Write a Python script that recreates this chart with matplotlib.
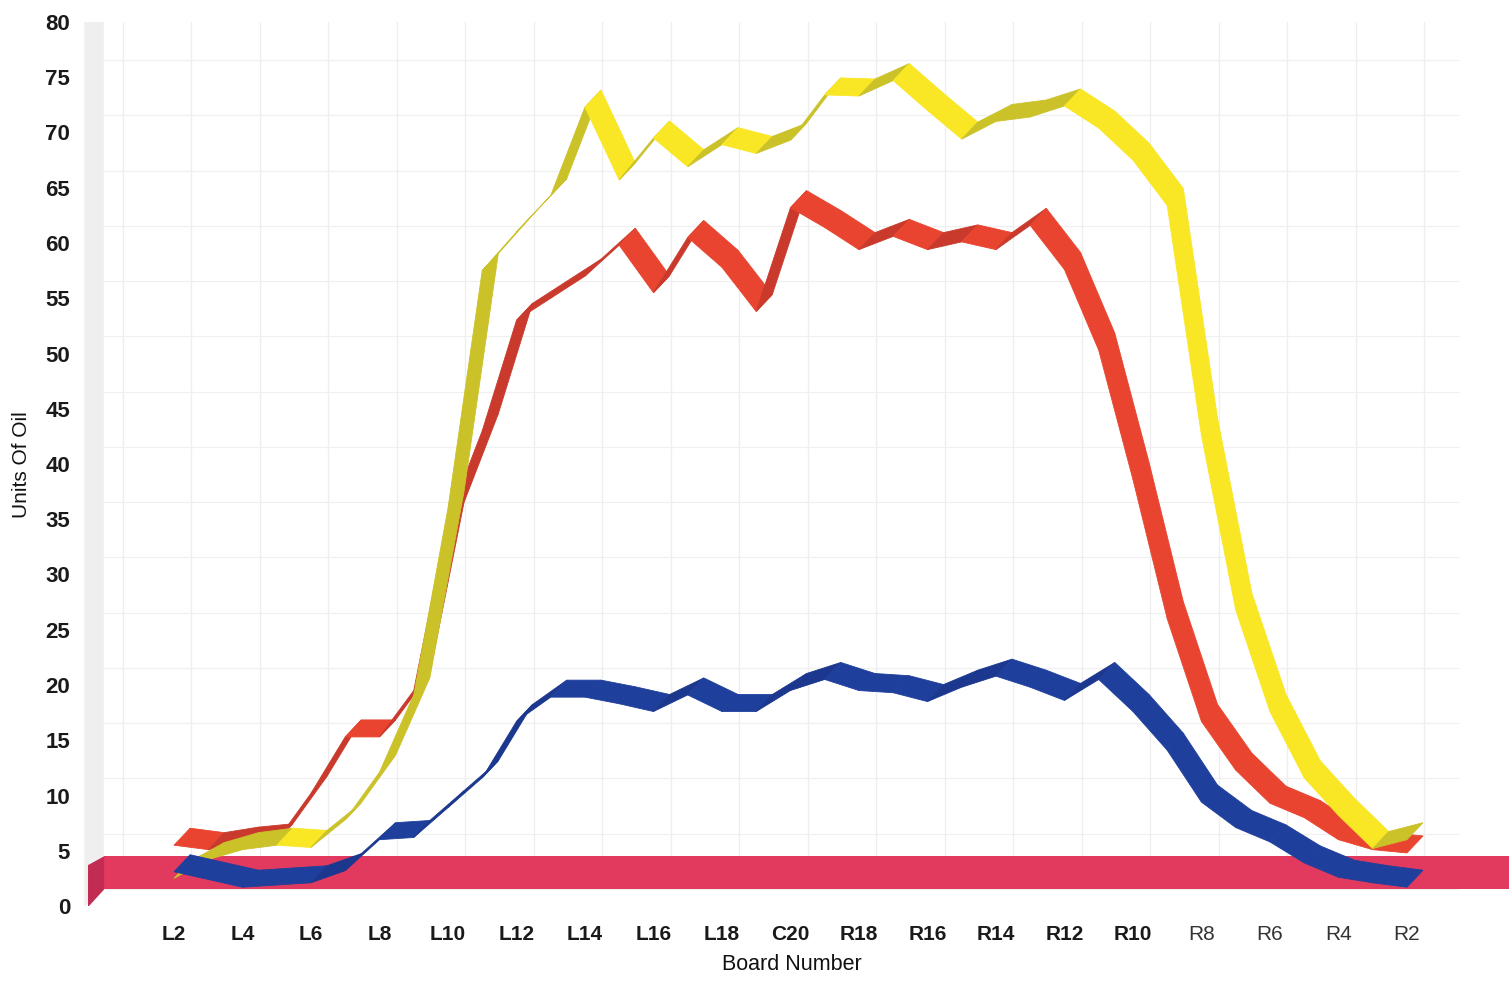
import numpy as np
import matplotlib.pyplot as plt
from matplotlib.patches import Polygon

plt.rcParams['font.family'] = ['Liberation Sans', 'DejaVu Sans']

# board positions, L2 ... C20 ... R2
boards = ['L2', 'L3', 'L4', 'L5', 'L6', 'L7', 'L8', 'L9', 'L10', 'L11',
          'L12', 'L13', 'L14', 'L15', 'L16', 'L17', 'L18', 'L19', 'C20',
          'R19', 'R18', 'R17', 'R16', 'R15', 'R14', 'R13', 'R12', 'R11',
          'R10', 'R9', 'R8', 'R7', 'R6', 'R5', 'R4', 'R3', 'R2']

yellow = [2.5, 4.2, 5.1, 5.5, 5.3, 7.8, 12.1, 19.1, 36.0, 57.5,
          61.0, 64.3, 72.3, 65.7, 69.5, 66.9, 68.9, 68.1, 69.3,
          73.4, 73.3, 74.7, 72.0, 69.4, 71.0, 71.4, 72.4, 70.4,
          67.5, 63.4, 42.6, 26.8, 17.6, 11.6, 8.2, 5.2, 6.0]

red = [5.5, 5.1, 5.6, 5.9, 10.2, 15.3, 15.3, 19.5, 35.0, 43.0,
       53.0, 55.0, 57.0, 59.8, 55.5, 60.5, 57.8, 53.8, 63.2,
       61.4, 59.4, 60.6, 59.4, 60.1, 59.4, 61.6, 57.6, 50.3,
       38.6, 26.0, 16.7, 12.3, 9.3, 8.0, 6.0, 5.1, 4.8]

blue = [3.1, 2.4, 1.7, 1.9, 2.1, 3.2, 6.0, 6.2, 8.9, 11.6,
        16.7, 18.9, 18.9, 18.3, 17.6, 19.1, 17.6, 17.6, 19.5,
        20.5, 19.5, 19.3, 18.5, 19.8, 20.8, 19.8, 18.6, 20.5,
        17.6, 14.1, 9.4, 7.1, 5.8, 3.9, 2.6, 2.1, 1.7]

band_low, band_high = 1.5, 4.5

# 3d depth of the ribbons (in data units)
DX = 0.47
DY = 1.54

XMIN, XMAX = -2.75, 38.98


def draw_ribbon(ax, vals, color, shade, z):
    x = np.arange(len(vals))
    for i in range(len(vals) - 1):
        x0, x1 = x[i], x[i + 1]
        y0, y1 = vals[i], vals[i + 1]
        c = shade if y1 > y0 + 0.3 else color
        poly = Polygon([(x0, y0), (x1, y1), (x1 + DX, y1 + DY), (x0 + DX, y0 + DY)],
                       closed=True, fc=c, ec=c, lw=0.6, zorder=z)
        ax.add_patch(poly)


fig = plt.figure(figsize=(15.09, 9.81), dpi=100)
ax = fig.add_axes([79.8 / 1509, 75 / 981, 1 - 79.8 / 1509, 884 / 981])
ax.set_xlim(XMIN, XMAX)
ax.set_ylim(0, 80)
for s in ax.spines.values():
    s.set_visible(False)

# back wall grid
for v in range(0, 80, 5):
    ax.plot([-2.05, 37.5], [v + DY, v + DY], color='#f0f0f0', lw=0.9, zorder=0)
for xv in range(-2, 38, 2):
    ax.plot([xv + 0.5, xv + 0.5], [DY, 80], color='#eeeeee', lw=0.9, zorder=0)

# side wall
ax.add_patch(Polygon([(-2.62, -0.1), (-2.05, 1.4), (-2.05, 80.6), (-2.62, 80.0)],
                     closed=True, fc='#efefef', ec='none', zorder=0))

# pink band
ax.fill_between([-2.04, XMAX], band_low, band_high, color='#e13a5e', lw=0, zorder=1)
ax.add_patch(Polygon([(-2.51, band_high - 0.8), (-2.04, band_high), (-2.04, band_low), (-2.51, -0.1)],
                     closed=True, fc='#c22b52', ec='none', zorder=1))

draw_ribbon(ax, red, '#e8442f', '#c93a2c', 2)
draw_ribbon(ax, yellow, '#f9e725', '#cbc22a', 3)
draw_ribbon(ax, blue, '#1f3f9c', '#1b378e', 4)

ax.set_yticks(range(0, 81, 5))
ax.set_yticklabels([str(v) for v in range(0, 81, 5)], fontsize=16, fontweight='bold', color='#1a1a1a')
ax.set_xticks(range(0, len(boards), 2))
ax.set_xticklabels(boards[::2], fontsize=15, color='#1a1a1a')
# the right hand labels are printed lighter
for k, lab in enumerate(ax.get_xticklabels()):
    if k < 15:
        lab.set_fontweight('bold')
    else:
        lab.set_color('#333333')
ax.tick_params(axis='y', length=0, pad=7)
ax.tick_params(axis='x', length=0, pad=14)

fig.text(22 / 1509, 1 - 465 / 981, 'Units Of Oil', rotation=90, ha='center', va='center',
         fontsize=15, color='#111111')
fig.text(792 / 1509, 1 - 964 / 981, 'Board Number', ha='center', va='center',
         fontsize=15.5, color='#111111')

fig.savefig('out.png', dpi=100)
